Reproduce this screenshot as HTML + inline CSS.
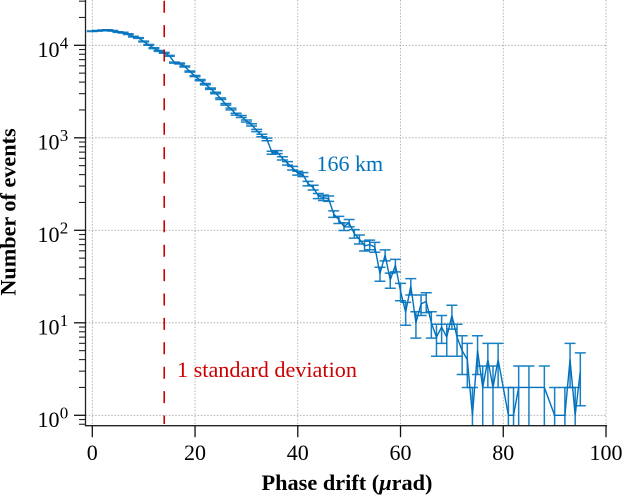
<!DOCTYPE html>
<html>
<head>
<meta charset="utf-8">
<title>Number of events vs phase drift</title>
<style>
html,body{margin:0;padding:0;background:#fff;}
svg{display:block;font-family:"Liberation Serif",serif;}
</style>
</head>
<body>
<svg id="chart" xmlns="http://www.w3.org/2000/svg" width="623" height="496" viewBox="0 0 623 496">
<defs><clipPath id="plot-clip"><rect x="85.5" y="0" width="522" height="425.7"/></clipPath></defs>
<g id="grid"></g>
<g id="series" clip-path="url(#plot-clip)"></g>
<g id="threshold"></g>
<g id="axes"></g>
<text x="316.5" y="171" font-size="22" fill="#0072BD">166 km</text>
<text x="177" y="377" font-size="22.2" fill="#CC0000">1 standard deviation</text>
<text x="347" y="490" font-size="22.3" font-weight="bold" text-anchor="middle">Phase drift (<tspan font-style="italic">&#956;</tspan>rad)</text>
<text transform="translate(15.5,212) rotate(-90)" font-size="22.2" font-weight="bold" text-anchor="middle">Number of events</text>
</svg>
<script>
const bins = [0,1,2,3,4,5,6,7,8,9,10,11,12,13,14,15,16,17,18,19,20,21,22,23,24,25,26,27,28,29,30,31,32,33,34,35,36,37,38,39,40,41,42,43,44,45,46,47,48,49,50,51,52,53,54,55,56,57,58,59,60,61,62,63,64,65,66,67,68,69,70,71,72,73,74,75,76,77,78,79,81,82,83,85,88,90,92,93,94,95];
const counts = [14200,14350,14500,14600,14350,13900,13700,13200,12400,12000,11000,10100,9300,8700,8300,7700,6500,6350,5900,5200,4650,4200,3800,3400,3050,2650,2300,2050,1800,1700,1520,1380,1200,1060,960,690,700,600,530,470,415,400,320,290,235,225,220,150,130,110,120,92,80,68,70,66,34,54,29,42,22,13,25,10,16,17,10,7,9,7,12,7,5,4,1,5,2,4,2,4,1,1,2,2,2,1,1,4,1,3];
const xTickValues = [0,20,40,60,80,100];
const yTickExponents = [0,1,2,3,4];
const yMinorValues = [0.8,0.9,2,3,4,5,6,7,8,9,20,30,40,50,60,70,80,90,200,300,400,500,600,700,800,900,2000,3000,4000,5000,6000,7000,8000,9000,20000,30000];
const thresholdValue = 14;

const NS = 'http://www.w3.org/2000/svg';
const BLUE = '#0072BD';
const xScale = v => 92.3 + v * 5.137;
const yScale = v => 415.3 - 92.5 * Math.log10(v);
const bottom = 425.7;
const leftEdge = 85.5;
const rightEdge = 607;

function make(tag, attrs, parent) {
  const el = document.createElementNS(NS, tag);
  for (const k in attrs) el.setAttribute(k, attrs[k]);
  parent.appendChild(el);
  return el;
}

const grid = document.getElementById('grid');
const series = document.getElementById('series');
const threshold = document.getElementById('threshold');
const axes = document.getElementById('axes');

xTickValues.forEach(v => {
  const g = make('line', {x1: xScale(v), x2: xScale(v), y1: 0, y2: bottom, stroke: '#a8a8a8', 'stroke-width': 0.8, 'stroke-dasharray': '1.6 1.6'}, grid);
  
  
});
yTickExponents.forEach(e => {
  const y = yScale(Math.pow(10, e));
  const g = make('line', {x1: leftEdge, x2: rightEdge, y1: y, y2: y, stroke: '#a8a8a8', 'stroke-width': 0.8, 'stroke-dasharray': '1.6 1.6'}, grid);
  
  
});

bins.forEach((b, i) => {
  const n = counts[i];
  const err = Math.sqrt(n);
  const x = xScale(b);
  const top = yScale(n + err);
  const low = n - err > 0.01 ? yScale(n - err) : bottom + 20;
  const bar = make('path', {
    d: 'M' + x + ' ' + top + 'V' + low + 'M' + (x - 5.5) + ' ' + top + 'H' + (x + 5.5) + 'M' + (x - 5.5) + ' ' + low + 'H' + (x + 5.5),
    fill: 'none', stroke: BLUE, 'stroke-width': 1.5, 'stroke-opacity': 0.9
  }, series);
  
  
});
const linePoints = bins.map((b, i) => xScale(b) + ',' + yScale(counts[i])).join(' ');
const dataLine = make('polyline', {points: linePoints, fill: 'none', stroke: BLUE, 'stroke-width': 1.4, 'stroke-linejoin': 'miter'}, series);



const marker = make('line', {x1: xScale(thresholdValue), x2: xScale(thresholdValue), y1: 0.7, y2: 424, stroke: '#CC0000', 'stroke-width': 1.6, 'stroke-dasharray': '12 12.4'}, threshold);



const ySpine = make('line', {x1: leftEdge, x2: leftEdge, y1: 0, y2: bottom + 0.7, stroke: '#222', 'stroke-width': 1.3}, axes);


const xSpine = make('line', {x1: leftEdge, x2: rightEdge, y1: bottom, y2: bottom, stroke: '#222', 'stroke-width': 1.3}, axes);



xTickValues.forEach(v => {
  const t = make('line', {x1: xScale(v), x2: xScale(v), y1: bottom, y2: bottom + 11.5, stroke: '#111', 'stroke-width': 1.3}, axes);
  
  
  const l = make('text', {x: xScale(v), y: 460, 'font-size': 22, 'text-anchor': 'middle', fill: '#000'}, axes);
  
  
  l.textContent = v;
});
yTickExponents.forEach(e => {
  const y = yScale(Math.pow(10, e));
  const t = make('line', {x1: leftEdge, x2: 74, y1: y, y2: y, stroke: '#111', 'stroke-width': 1.3}, axes);
  
  
  const l = make('text', {x: 37.5, y: y + 11.7, 'font-size': 22, fill: '#000'}, axes);
  
  
  l.textContent = '10';
  const s = make('tspan', {dx: 0.3, dy: -8.7, 'font-size': 17}, l);
  s.textContent = e;
});
yMinorValues.forEach(v => {
  const y = yScale(v);
  const t = make('line', {x1: leftEdge, x2: 79, y1: y, y2: y, stroke: '#222', 'stroke-width': 1.1}, axes);
  
  
});
</script>
</body>
</html>
